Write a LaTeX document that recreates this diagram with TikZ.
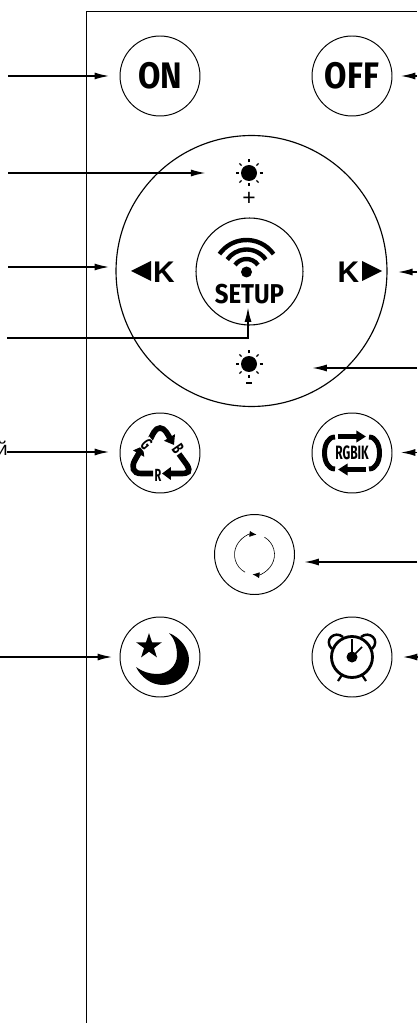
\documentclass[tikz,border=0pt]{standalone}
\usepackage{fontspec}
\usetikzlibrary{arrows.meta,positioning,shapes.geometric}
\setmainfont{Liberation Sans}
\newfontfamily\btnfont[FakeStretch=0.88]{Fira Sans}
\newfontfamily\slimfont[FakeStretch=0.62]{Fira Sans}
\newcommand{\btnsize}[1]{\fontsize{#1}{#1}\selectfont\btnfont\bfseries}
\newcommand{\slimsize}[1]{\fontsize{#1}{#1}\selectfont\slimfont\bfseries}
\tikzset{
  btn/.style={draw, circle, line width=0.55pt, minimum size=1.6cm, inner sep=0pt},
  callout/.style={line width=1pt, -{Latex[length=8.5pt,width=4pt]}},
  thinarrow/.style={line width=0.35pt, -{Latex[length=4pt,width=3.4pt]}},
  fatarrow/.style={line width=3.2pt, -{Triangle[length=5pt,width=7pt]}},
  rgbarrow/.style={line width=2.7pt, -{Triangle[length=5.5pt,width=6.5pt]}},
  sunray/.style={line width=0.75pt},
  sundot/.style={circle, fill=black, minimum size=0.32cm, inner sep=0pt},
  tri/.style={fill=black},
}
\begin{document}
\begin{tikzpicture}[x=0.02cm, y=-0.02cm]
  \useasboundingbox (0,0) rectangle (417,1023);
  \draw[line width=0.85pt] (86.5,1023) -- (86.5,11.5) -- (417,11.5);

  \node[btn, font=\btnsize{21}] (ON) at (160,76) {ON};
  \node[btn, font=\btnsize{21}] (OFF) at (352,76) {OFF};
  \node[draw, circle, line width=0.65pt, minimum size=5.42cm, inner sep=0pt] (ring) at (251.5,271) {};
  \node[draw, circle, line width=0.6pt, minimum size=2.14cm, inner sep=0pt] (SETUP) at (249.5,271.5) {};
  \node[btn] (RCY) at (160,453) {};
  \node[btn] (RGB) at (352,453) {};
  \node[btn] (ROT) at (254.5,554.5) {};
  \node[btn] (MOON) at (160,657) {};
  \node[btn] (CLOCK) at (352,657) {};

  \node[sundot] (SUNP) at (249,173) {};
  \node[sundot] (SUNM) at (249,364) {};
  \foreach \s in {SUNP,SUNM}
    \foreach \a in {0,45,...,315}
      \draw[sunray] (\s) ++(\a:10.5) -- ++(\a:3);
  \node[below=6pt of SUNP, inner sep=0pt, font=\fontsize{13}{13}\selectfont] (plus) {+};
  \draw[line width=0.7pt] (246,383) -- (252,383);

  \node[font=\fontsize{17}{17}\selectfont\bfseries, inner sep=0pt] (KL) at (164,272) {K};
  \node[font=\fontsize{17}{17}\selectfont\bfseries, inner sep=0pt] (KR) at (348.5,272) {K};
  \fill[tri] (131,271) -- (151,261) -- (151,281) -- cycle;
  \fill[tri] (382,271) -- (362,261) -- (362,281) -- cycle;

  \fill (246.5,272) circle (5.5);
  \foreach \r in {14,23.5,33}
    \draw[line width=2.5pt] (246.5,273) ++(-35:\r) arc[start angle=-35, end angle=-145, radius=\r];
  \node[font=\btnsize{15.5}, inner sep=0pt] (lblSETUP) at (249.5,294) {SETUP};

  \draw[fatarrow] (149,442) .. controls (153,434) and (155,428) .. (160,428)
    .. controls (165,428) and (168,435) .. (174,445);
  \draw[fatarrow] (153,473.5) -- (141,473.5) .. controls (133,473.5) and (131,467) .. (135,460) -- (143,446);
  \draw[fatarrow] (179,454) -- (187,465) .. controls (191,472) and (188,473.5) .. (181,473.5) -- (162,473.5);
  \node[font=\slimsize{10}, inner sep=0pt] (lblR) at (158,475) {R};
  \node[font=\slimsize{10}, inner sep=0pt, rotate=-50, fill=white, inner sep=0.3pt] (lblG) at (146.5,444) {G};
  \node[font=\slimsize{10}, inner sep=0pt, rotate=-55, fill=white, inner sep=0.3pt] (lblB) at (178,449) {B};

  \node[font=\slimsize{11}, inner sep=0pt] (lblRGB) at (352,453) {RGBIK};
  \draw[rgbarrow] (338,436.5) -- (366,436.5);
  \draw[rgbarrow] (366,469.5) -- (338,469.5);
  \draw[line width=2.8pt] (335,437) .. controls (321,437) and (321,469) .. (335,469);
  \draw[line width=2.8pt] (369,437) .. controls (383,437) and (383,469) .. (369,469);

  \draw[thinarrow] (245.1,572.2) arc[start angle=118, end angle=276, radius=20];
  \draw[thinarrow] (264.5,537.2) arc[start angle=-60, end angle=96, radius=20];

  \node[star, star points=5, star point ratio=2.6, fill=black, minimum size=0.54cm, inner sep=0pt] (STAR) at (149,646.5) {};
  \fill (169,633) .. controls (181,638) and (189,649) .. (189,660)
    .. controls (189,674) and (177,685) .. (163,685)
    .. controls (151,685) and (141,677) .. (136,667)
    .. controls (143,672) and (150,674) .. (157,674)
    .. controls (168,674) and (177,666) .. (177,655)
    .. controls (177,646) and (174,638) .. (169,633) -- cycle;

  \draw[line width=1.6pt] (352,657) circle (20.5);
  \fill (352,657) circle (5.5);
  \draw[line width=0.9pt] (352,657) -- (352,639);
  \draw[line width=0.9pt] (352,657) -- (362,647);
  \draw[line width=1.4pt] (332,649) .. controls (323,640) and (335,630) .. (343,637);
  \draw[line width=1.4pt] (372,649) .. controls (381,640) and (369,630) .. (361,637);
  \draw[line width=1.2pt] (342,675) -- (338,681);
  \draw[line width=1.2pt] (362,675) -- (366,681);

  \node[anchor=base east, inner sep=0pt, font=\fontsize{11}{11}\selectfont] (lblY) at (8,455) {й};

  \coordinate (inON) at (8,76);
  \coordinate (inOFF) at (417,76);
  \coordinate (inSUNP) at (8,173);
  \coordinate (inKL) at (8,267);
  \coordinate (inKR) at (417,272);
  \coordinate (inSETUP) at (7,338);
  \coordinate (tipSETUP) at (248,307);
  \coordinate (inSUNM) at (417,368);
  \coordinate (inRCY) at (7,452);
  \coordinate (inRGB) at (417,452.5);
  \coordinate (inROT) at (417,562);
  \coordinate (inMOON) at (0,657);
  \coordinate (inCLOCK) at (417,657);

  \draw[callout, shorten >=5.7pt] (inON) -- (ON);
  \draw[callout, shorten >=4.5pt] (inOFF) -- (OFF);
  \draw[callout, shorten >=19.8pt] (inSUNP) -- (SUNP);
  \draw[callout, shorten >=3.4pt] (inKL) -- (inKL -| ring.west);
  \draw[callout, shorten >=5.7pt] (inKR) -- (inKR -| ring.east);
  \draw[callout] (inSETUP) -| (tipSETUP);
  \draw[callout, shorten >=31pt] (inSUNM) -- (inSUNM -| SUNM.east);
  \draw[callout, shorten >=5.7pt] (inRCY) -- (inRCY -| RCY.west);
  \draw[callout, shorten >=4.5pt] (inRGB) -- (inRGB -| RGB.east);
  \draw[callout, shorten >=5.1pt] (inROT) -- (inROT -| ROT.east);
  \draw[callout, shorten >=4pt] (inMOON) -- (MOON);
  \draw[callout, shorten >=5.7pt] (inCLOCK) -- (CLOCK);
\end{tikzpicture}
\end{document}
